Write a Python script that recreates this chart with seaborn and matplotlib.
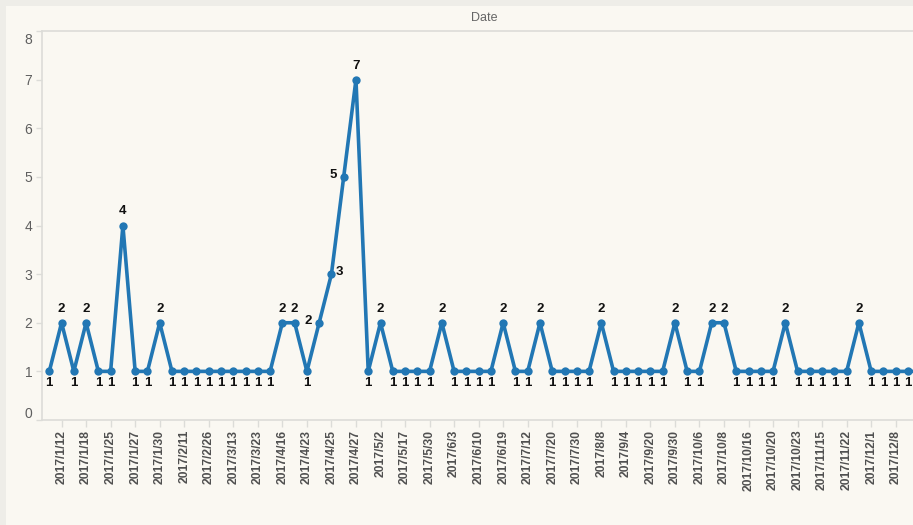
import numpy as np
import pandas as pd
import seaborn as sns
import matplotlib.pyplot as plt
from matplotlib.patches import Rectangle
import matplotlib.transforms as mtrans

# daily counts in date order (the last point runs off the right edge)
counts = [1, 2, 1, 2, 1, 1, 4, 1, 1, 2,
          1, 1, 1, 1, 1, 1, 1, 1, 1, 2,
          2, 1, 2, 3, 5, 7, 1, 2, 1, 1,
          1, 1, 2, 1, 1, 1, 1, 2, 1, 1,
          2, 1, 1, 1, 1, 2, 1, 1, 1, 1,
          1, 2, 1, 1, 2, 2, 1, 1, 1, 1,
          2, 1, 1, 1, 1, 1, 2, 1, 1, 1,
          1, 1]

# tableau only shows every other date label
tick_labels = ["2017/1/12", "2017/1/18", "2017/1/25", "2017/1/27", "2017/1/30",
               "2017/2/11", "2017/2/26", "2017/3/13", "2017/3/23", "2017/4/16",
               "2017/4/23", "2017/4/25", "2017/4/27", "2017/5/2", "2017/5/17",
               "2017/5/30", "2017/6/3", "2017/6/10", "2017/6/19", "2017/7/12",
               "2017/7/20", "2017/7/30", "2017/8/8", "2017/9/4", "2017/9/20",
               "2017/9/30", "2017/10/6", "2017/10/8", "2017/10/16", "2017/10/20",
               "2017/10/23", "2017/11/15", "2017/11/22", "2017/12/1", "2017/12/8"]

df = pd.DataFrame({"pos": np.arange(len(counts)), "count": counts})

sns.set_theme(style="white")
plt.rcParams['font.family'] = ['Liberation Sans', 'DejaVu Sans']

cream = "#faf8f2"
grey_line = "#dcdcd8"
blue = "#2277b4"

fig = plt.figure(figsize=(9.13, 5.25), dpi=100, facecolor="#eeede8")
# cream panel inside the grey border (kept behind the axes)
fig.patches.append(Rectangle((6/913, 0), 1, 1 - 6/525, transform=fig.transFigure,
                             facecolor=cream, edgecolor="none", zorder=-10))
ax = fig.add_axes([42/913, 1 - 420/525, 871/913, (420 - 31)/525])
ax.set_facecolor(cream)

sns.lineplot(data=df, x="pos", y="count", ax=ax, color=blue, linewidth=2.6,
             marker="o", markersize=6, markeredgewidth=0, clip_on=True)

ax.set_xlim(-0.595, 70.41)
ax.set_ylim(0, 8)

# data labels, nudged like tableau does around the peak
special = {22: (-11, 2), 23: (8, 2), 24: (-10, 2)}
for i, v in enumerate(counts):
    if i in special:
        dx, dy = special[i]
    elif v == 1:
        dx, dy = 0, -12
    else:
        dx, dy = 0, 14
    ax.annotate(str(v), (i, v), xytext=(dx, dy), textcoords="offset pixels",
                ha="center", va="center", fontsize=9.5, fontweight="bold",
                color="#111111")

# axes styling
for side in ["left", "top", "bottom"]:
    ax.spines[side].set_color(grey_line)
    ax.spines[side].set_linewidth(1.2)
ax.spines["right"].set_visible(False)

ax.set_yticks(range(0, 9))
ax.set_yticklabels([str(v) for v in range(0, 9)])
ax.tick_params(axis="y", length=4, width=1, color=grey_line, pad=3,
               labelsize=10, labelcolor="#5f5f5f", left=True)
labs = ax.get_yticklabels()
labs[0].set_transform(labs[0].get_transform() + mtrans.ScaledTranslation(0, 8/100, fig.dpi_scale_trans))
labs[-1].set_transform(labs[-1].get_transform() + mtrans.ScaledTranslation(0, -7/100, fig.dpi_scale_trans))

ax.set_xticks(np.arange(1, 2 * len(tick_labels), 2))
ax.set_xticklabels(tick_labels, rotation=90, fontweight="bold")
ax.tick_params(axis="x", length=5, width=1, color=grey_line, pad=2,
               labelsize=8.7, labelcolor="#505050", bottom=True)
ax.set_xlabel("")
ax.set_ylabel("")

fig.text(484/913, 1 - 18/525, "Date", ha="center", va="center",
         fontsize=9, color="#666666")

fig.savefig("out.png", dpi=100, facecolor=fig.get_facecolor())
